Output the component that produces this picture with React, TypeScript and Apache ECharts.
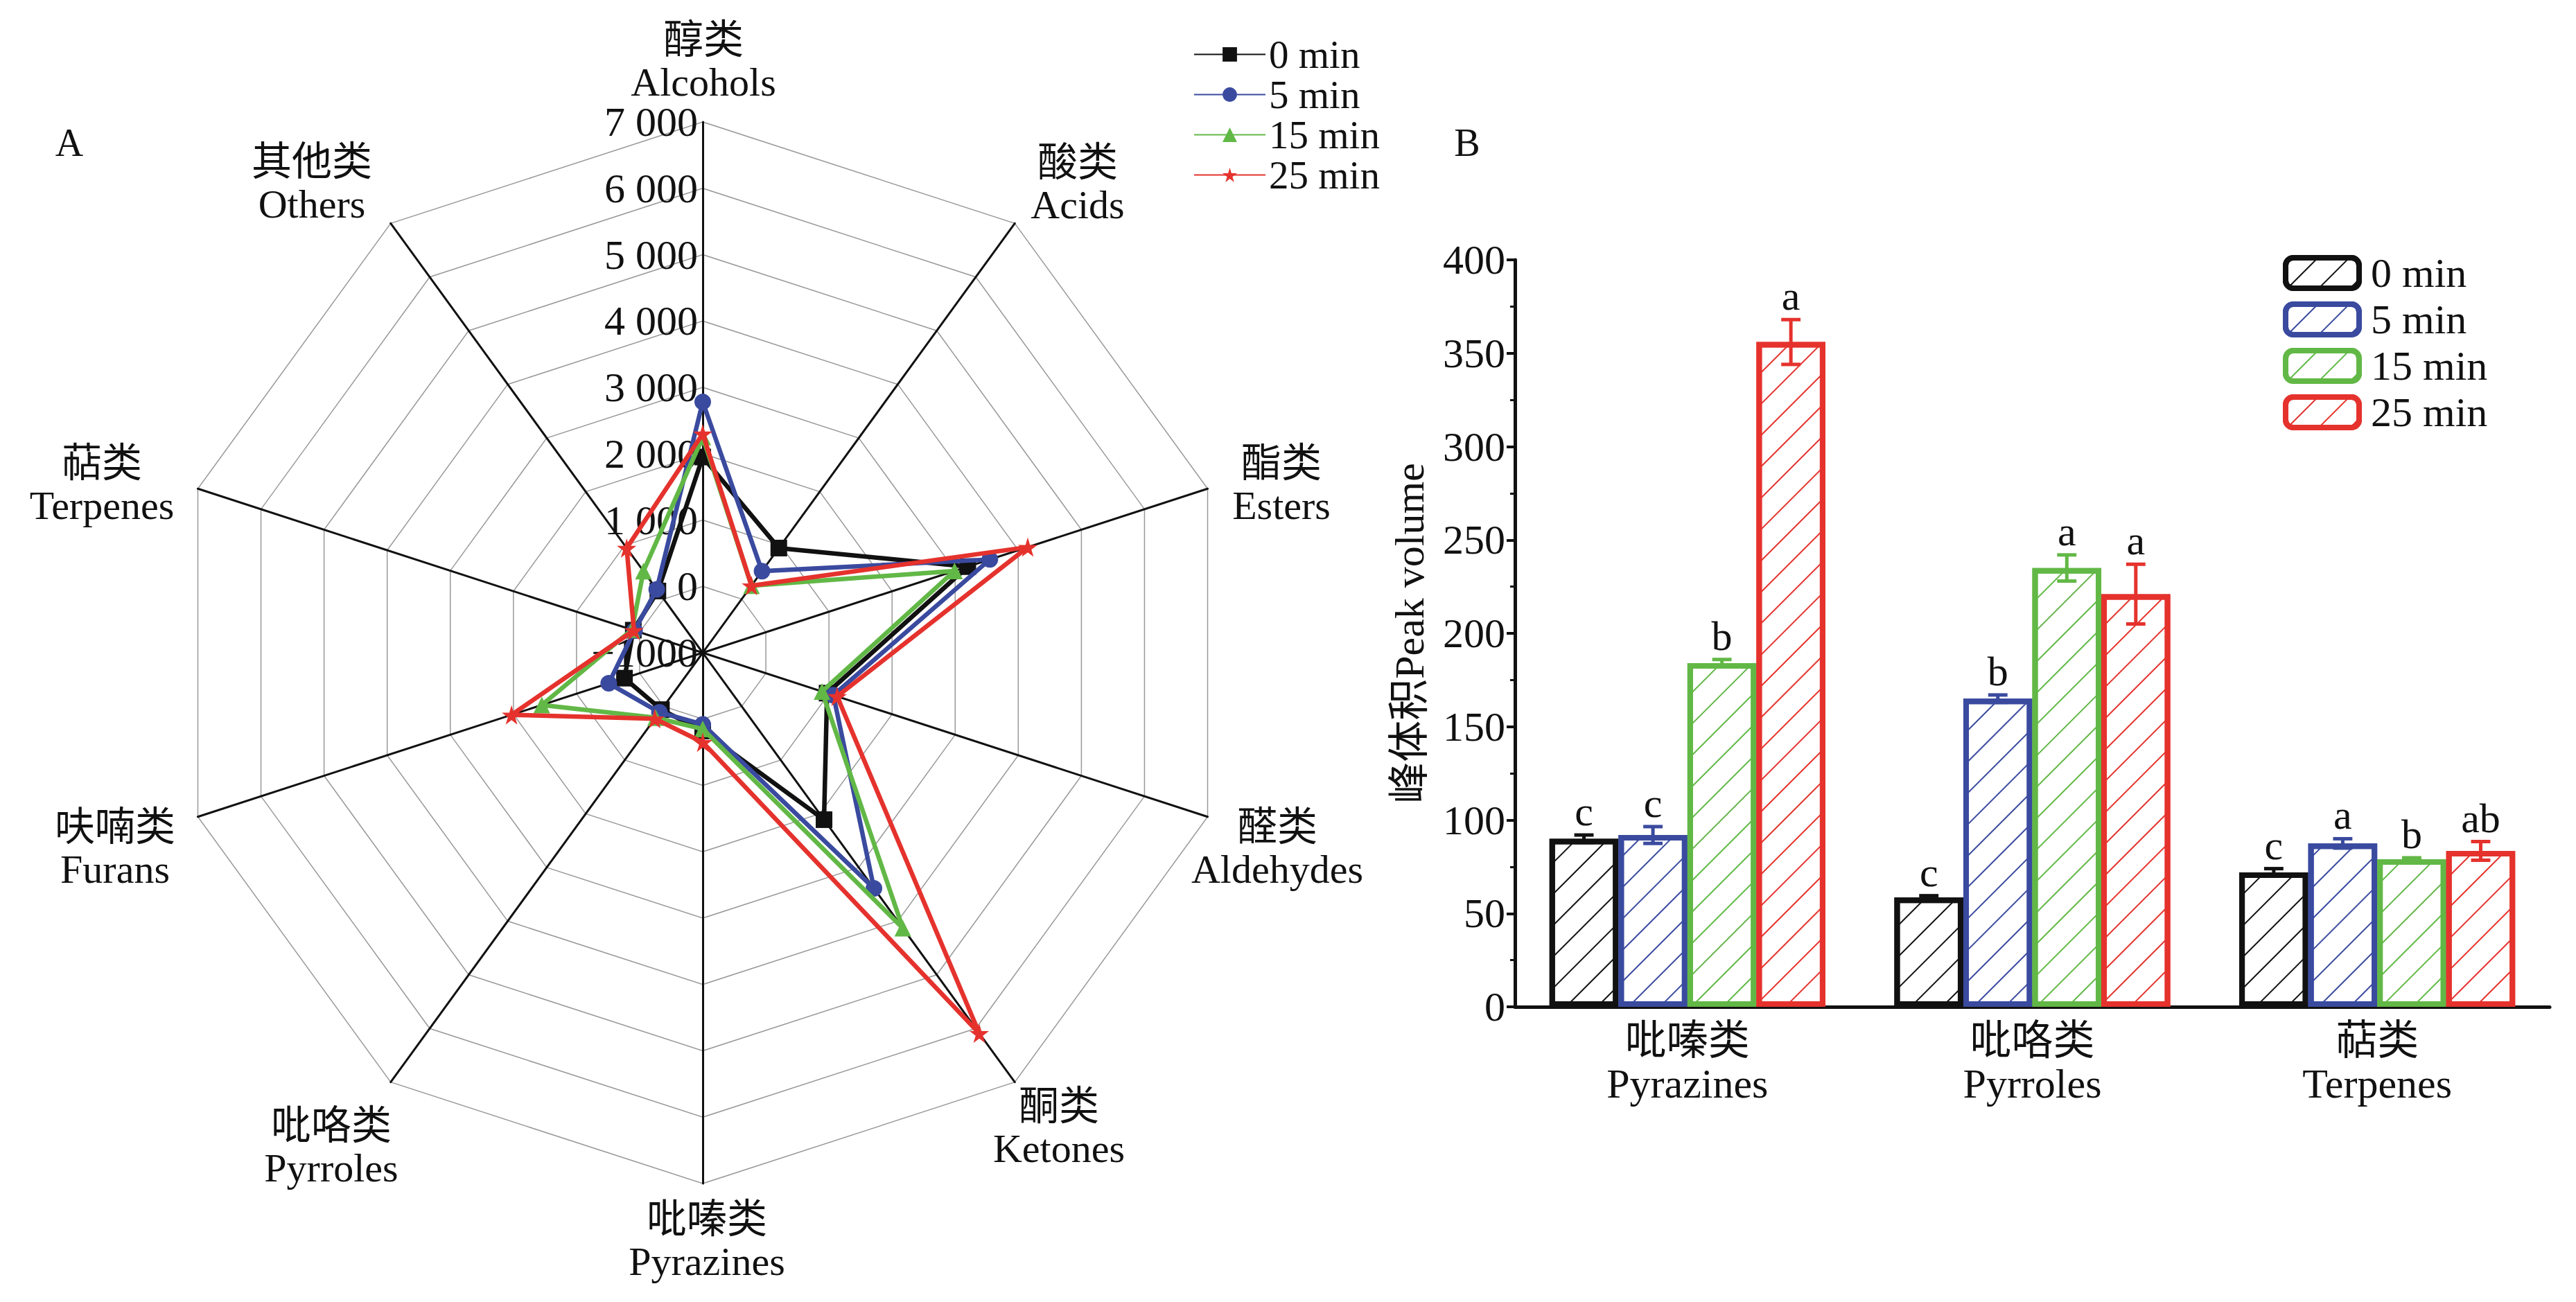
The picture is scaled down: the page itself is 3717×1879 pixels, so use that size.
import React, { useEffect, useRef } from 'react';
import * as echarts from 'echarts';

const FONT = "'Liberation Serif', 'Times New Roman', 'Noto Sans CJK SC', serif";

const seriesNames = ['0 min', '5 min', '15 min', '25 min'];
const seriesColors = ['#111111', '#3a4a9f', '#62b846', '#e5322d'];
const seriesSymbols = [
  'rect',
  'circle',
  'triangle',
  'path://M50,0 L61,35 L98,35 L68,57 L79,91 L50,70 L21,91 L32,57 L2,35 L39,35 Z',
];

// Radar (panel A) — indicator order as ECharts lays them out (counter-clockwise from top)
const radarCategories = [
  '醇类\nAlcohols',
  '其他类\nOthers',
  '萜类\nTerpenes',
  '呋喃类\nFurans',
  '吡咯类\nPyrroles',
  '吡嗪类\nPyrazines',
  '酮类\nKetones',
  '醛类\nAldehydes',
  '酯类\nEsters',
  '酸类\nAcids',
];
const radarTickLabels = ['−1000', '0', '1 000', '2 000', '3 000', '4 000', '5 000', '6 000', '7 000'];
const radarMin = -1000;
const radarMax = 7000;
const radar0min = [1950, 150, 100, 240, 60, 180, 2110, 970, 3200, 950];
const radar5min = [2780, 180, 80, 490, 110, 80, 3390, 1070, 3550, 520];
const radar15min = [2250, 520, 120, 1550, 210, 150, 4130, 890, 2990, 250];
const radar25min = [2300, 950, 90, 2030, 230, 350, 6090, 1130, 4150, 250];
const radarValues = [radar0min, radar5min, radar15min, radar25min];

// Bars (panel B)
const barCategories = ['吡嗪类\nPyrazines', '吡咯类\nPyrroles', '萜类\nTerpenes'];
const bar0min = [90, 58.5, 72];
const bar5min = [92, 165, 87.5];
const bar15min = [184, 235, 79];
const bar25min = [356, 221, 83.5];
const err0min = [2, 1, 2];
const err5min = [4.5, 2, 2.5];
const err15min = [2, 7, 0.8];
const err25min = [12, 16, 5];
const letters0min = ['c', 'c', 'c'];
const letters5min = ['c', 'b', 'a'];
const letters15min = ['b', 'a', 'b'];
const letters25min = ['a', 'a', 'ab'];
const barValues = [bar0min, bar5min, bar15min, bar25min];
const barErrors = [err0min, err5min, err15min, err25min];
const barLetters = [letters0min, letters5min, letters15min, letters25min];
const yTicks = { min: 0, max: 400, interval: 50 };

// layout constants
const CATEGORY_GAP = 0.2;
const RADAR_CX = 1014;
const RADAR_CY = 942;
const RADAR_R = 766;
// centre of each radar axis name (same order as radarCategories)
const radarNameCentres = [
  [1015, 88],
  [450, 264],
  [147, 699],
  [166, 1224],
  [478, 1655],
  [1020, 1790],
  [1528, 1627],
  [1843, 1224],
  [1849, 699],
  [1555, 265],
];

export default function App() {
  const ref = useRef<HTMLDivElement>(null);
  useEffect(() => {
    if (!ref.current) return;
    const chart = echarts.init(ref.current, null, { renderer: 'svg' });

    const errData: number[][] = [];
    const errLetters: string[] = [];
    barValues.forEach((vals, s) =>
      vals.forEach((v, c) => {
        errData.push([c, v, barErrors[s][c], s]);
        errLetters.push(barLetters[s][c]);
      })
    );

    const decalFor = (color: string) => ({
      symbol: 'rect',
      symbolSize: 1,
      dashArrayX: [1, 0],
      dashArrayY: [2, 30],
      rotation: -Math.PI / 4,
      color,
    });

    const nameGraphics = radarCategories.map((name, i) => ({
      type: 'text',
      x: radarNameCentres[i][0],
      y: radarNameCentres[i][1],
      style: {
        text: name,
        fontSize: 58,
        lineHeight: 61,
        fontFamily: FONT,
        fill: '#111',
        align: 'center',
        verticalAlign: 'middle',
      },
    }));

    const option: any = {
      animation: false,
      backgroundColor: '#ffffff',
      textStyle: { fontFamily: FONT, color: '#111' },
      graphic: [
        { type: 'text', x: 100, y: 206, style: { text: 'A', fontSize: 56, fontFamily: FONT, fill: '#111', align: 'center', verticalAlign: 'middle' } },
        { type: 'text', x: 2117, y: 206, style: { text: 'B', fontSize: 56, fontFamily: FONT, fill: '#111', align: 'center', verticalAlign: 'middle' } },
        ...nameGraphics,
      ],
      radar: {
        center: [RADAR_CX, RADAR_CY],
        radius: RADAR_R,
        startAngle: 90,
        shape: 'polygon',
        splitNumber: 8,
        axisName: { show: false },
        axisLine: { show: true, lineStyle: { color: '#111', width: 3 } },
        axisTick: { show: false },
        axisLabel: { show: false },
        splitLine: { show: true, lineStyle: { color: '#999999', width: 1.5 } },
        splitArea: { show: false },
        indicator: radarCategories.map((name, i) => ({
          name,
          min: radarMin,
          max: radarMax,
          ...(i === 0
            ? {
                axisLabel: {
                  show: true,
                  fontSize: 60,
                  color: '#111',
                  fontFamily: FONT,
                  margin: 7,
                  formatter: (v: number) => radarTickLabels[Math.round((v - radarMin) / 1000)] ?? '',
                },
              }
            : {}),
        })),
      },
      legend: [
        {
          data: seriesNames.map((n) => 'radar:' + n),
          formatter: (name: string) => name.replace('radar:', ''),
          orient: 'vertical',
          left: 1722,
          top: 50,
          padding: 0,
          itemWidth: 103,
          itemHeight: 26,
          itemGap: 1,
          textStyle: { fontSize: 57, fontFamily: FONT, color: '#111' },
        },
        {
          data: seriesNames.map((n, i) => ({
            name: n,
            itemStyle: { color: '#fff', borderColor: seriesColors[i], borderWidth: 8, decal: decalFor(seriesColors[i]) },
          })),
          orient: 'vertical',
          left: 3294,
          top: 364,
          padding: 0,
          itemWidth: 106,
          itemHeight: 44,
          itemGap: 7,
          textStyle: { fontSize: 60, fontFamily: FONT, color: '#111', padding: [0, 0, 0, 12] },
        },
      ],
      grid: { left: 2186, right: 38, top: 375, bottom: 426, containLabel: false },
      xAxis: {
        type: 'category',
        data: barCategories,
        axisLine: { lineStyle: { color: '#111', width: 5 } },
        axisTick: { show: true, alignWithLabel: true, inside: true, length: 14, lineStyle: { color: '#111', width: 4 } },
        axisLabel: { fontSize: 60, lineHeight: 62, margin: 18, color: '#111', fontFamily: FONT },
      },
      yAxis: {
        type: 'value',
        min: yTicks.min,
        max: yTicks.max,
        interval: yTicks.interval,
        name: '峰体积Peak volume',
        nameLocation: 'middle',
        nameGap: 122,
        nameTextStyle: { fontSize: 60, color: '#111', fontFamily: FONT },
        axisLine: { show: true, lineStyle: { color: '#111', width: 5 } },
        axisTick: { show: true, length: 12, lineStyle: { color: '#111', width: 4 } },
        minorTick: { show: true, splitNumber: 2, length: 7, lineStyle: { color: '#111', width: 3 } },
        splitLine: { show: false },
        axisLabel: { fontSize: 60, margin: 14, color: '#111', fontFamily: FONT },
      },
      series: [
        ...radarValues.map((vals, s) => ({
          type: 'radar',
          name: 'radarSeries' + s,
          symbol: seriesSymbols[s],
          symbolSize: s === 3 ? 28 : 24,
          lineStyle: { color: seriesColors[s], width: 6.5 },
          itemStyle: { color: seriesColors[s] },
          z: 3 + s,
          data: [{ value: vals, name: seriesNames[s] }],
        })),
        ...seriesNames.map((n, s) => ({
          type: 'line',
          name: 'radar:' + n,
          data: [],
          symbol: seriesSymbols[s],
          symbolSize: s === 3 ? 28 : 24,
          lineStyle: { color: seriesColors[s], width: 7 },
          itemStyle: { color: seriesColors[s] },
        })),
        ...barValues.map((vals, s) => ({
          type: 'bar',
          name: seriesNames[s],
          data: vals,
          barGap: '0%',
          barCategoryGap: CATEGORY_GAP * 100 + '%',
          itemStyle: {
            color: '#ffffff',
            borderColor: seriesColors[s],
            borderWidth: 8,
            decal: decalFor(seriesColors[s]),
          },
        })),
        {
          type: 'custom',
          name: 'errors',
          data: errData,
          z: 10,
          encode: { x: 0, y: 1 },
          renderItem: (params: any, api: any) => {
            const c = api.value(0);
            const v = api.value(1);
            const e = api.value(2);
            const s = api.value(3);
            const band = api.size([1, 0])[0];
            const bw = (band * (1 - CATEGORY_GAP)) / 4;
            const cx = api.coord([c, v])[0] + (s - 1.5) * bw;
            const yTop = api.coord([c, v + e])[1];
            const yBot = api.coord([c, v - e])[1];
            const color = seriesColors[s];
            const cap = bw * 0.14;
            const ls = { stroke: color, lineWidth: 5 };
            return {
              type: 'group',
              children: [
                { type: 'line', shape: { x1: cx, y1: yTop, x2: cx, y2: yBot }, style: ls },
                { type: 'line', shape: { x1: cx - cap, y1: yTop, x2: cx + cap, y2: yTop }, style: ls },
                { type: 'line', shape: { x1: cx - cap, y1: yBot, x2: cx + cap, y2: yBot }, style: ls },
                {
                  type: 'text',
                  x: cx,
                  y: yTop - 4,
                  style: {
                    text: errLetters[params.dataIndex],
                    fill: '#111',
                    fontSize: 60,
                    fontFamily: FONT,
                    align: 'center',
                    verticalAlign: 'bottom',
                  },
                },
              ],
            };
          },
        },
      ],
    };
    chart.setOption(option);
    return () => chart.dispose();
  }, []);
  return <div ref={ref} style={{ position: 'fixed', left: 0, top: 0, width: 3717, height: 1879, background: '#fff' }} />;
}
